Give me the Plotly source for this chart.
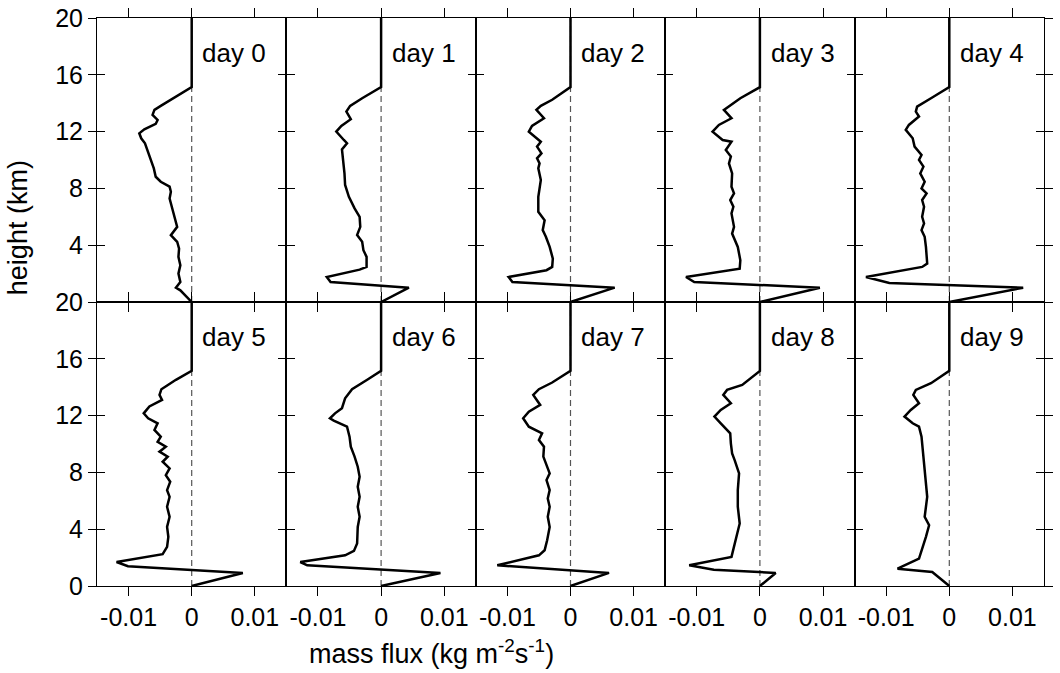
import plotly.graph_objects as go

# Vertical mass-flux profiles (kg m^-2 s^-1) against height (km), one per day
hgt_d0 = [20, 15.13, 13.81, 13.53, 13.18, 12.82, 12.54, 12.16, 11.88, 11.53, 11.18, 10.59, 10.0, 9.41, 8.82,
          8.47, 8.12, 7.76, 7.29, 6.47, 5.76, 5.29, 4.71, 4.24, 3.76, 3.18, 2.59, 2.0, 1.41, 1.01, 0.82, 0]
flux_d0 = [0, 0, -0.0049, -0.0059, -0.0062, -0.0054, -0.0057, -0.0075, -0.0083, -0.0080, -0.0074, -0.0069,
           -0.0065, -0.0060, -0.0057, -0.0049, -0.0035, -0.0033, -0.0035, -0.0030, -0.0025, -0.0023, -0.0033,
           -0.0023, -0.0020, -0.0021, -0.0018, -0.0021, -0.0018, -0.0025, -0.0018, 0]

hgt_d1 = [20, 15.13, 14.35, 13.81, 13.41, 12.87, 12.4, 12.0, 11.41, 11.18, 10.75, 10.0, 9.06, 8.24, 7.41,
          6.59, 6.0, 5.29, 4.71, 4.24, 3.65, 3.18, 2.47, 2.28, 1.76, 1.41, 1.01, 0]
flux_d1 = [0, 0, -0.0030, -0.0049, -0.0055, -0.0048, -0.0063, -0.0071, -0.0059, -0.0054, -0.0062, -0.0060,
           -0.0058, -0.0057, -0.0051, -0.0042, -0.0034, -0.0033, -0.0038, -0.0030, -0.0028, -0.0023, -0.0023,
           -0.0034, -0.0086, -0.0080, 0.0044, 0]

hgt_d2 = [20, 15.13, 14.24, 13.81, 13.53, 12.94, 12.4, 12.0, 11.29, 10.94, 10.47, 10.12, 9.76, 9.41, 8.59,
          7.41, 6.35, 5.76, 5.06, 4.59, 3.88, 3.06, 2.47, 2.24, 1.76, 1.41, 1.01, 0]
flux_d2 = [0, 0, -0.0029, -0.0047, -0.0054, -0.0042, -0.0061, -0.0066, -0.0047, -0.0053, -0.0046, -0.0053,
           -0.0049, -0.0051, -0.0047, -0.0051, -0.0051, -0.0041, -0.0044, -0.0039, -0.0033, -0.0028, -0.0029,
           -0.0038, -0.0098, -0.0092, 0.0070, 0]

hgt_d3 = [20, 15.13, 14.35, 13.81, 13.53, 12.94, 12.47, 12.0, 11.41, 11.29, 10.71, 10.24, 9.76, 9.06, 8.12,
          7.65, 7.18, 6.71, 6.24, 5.29, 4.82, 3.88, 2.94, 2.35, 1.76, 1.41, 1.01, 0]
flux_d3 = [0, 0, -0.0031, -0.0049, -0.0057, -0.0045, -0.0065, -0.0075, -0.0059, -0.0045, -0.0054, -0.0046,
           -0.0049, -0.0044, -0.0045, -0.0041, -0.0047, -0.0042, -0.0045, -0.0041, -0.0044, -0.0035, -0.0031,
           -0.0032, -0.0117, -0.0104, 0.0095, 0]

hgt_d4 = [20, 15.13, 14.35, 13.76, 13.41, 13.06, 12.47, 12.12, 11.53, 10.94, 10.35, 10.0, 9.53, 9.06, 8.47,
          8.0, 7.65, 7.18, 6.71, 6.0, 5.53, 5.06, 4.59, 3.88, 2.71, 2.47, 1.76, 1.34, 1.01, 0]
flux_d4 = [0, 0, -0.0029, -0.0051, -0.0053, -0.0048, -0.0064, -0.0069, -0.0058, -0.0055, -0.0044, -0.0048,
           -0.0041, -0.0046, -0.0039, -0.0044, -0.0036, -0.0043, -0.0040, -0.0043, -0.0040, -0.0044, -0.0039,
           -0.0037, -0.0035, -0.0043, -0.0132, -0.0095, 0.0117, 0]

hgt_d5 = [20, 15.15, 14.52, 13.86, 13.46, 13.1, 12.64, 12.16, 11.81, 11.46, 10.99, 10.52, 10.16, 9.81, 9.46,
          9.11, 8.75, 8.28, 7.81, 7.34, 6.75, 6.28, 5.58, 4.87, 4.16, 3.46, 2.75, 2.24, 1.69, 1.39, 0.92, 0]
flux_d5 = [0, 0, -0.0025, -0.0048, -0.0051, -0.0047, -0.0067, -0.0076, -0.0069, -0.0054, -0.0059, -0.0049,
           -0.0054, -0.0041, -0.0051, -0.0038, -0.0046, -0.0035, -0.0041, -0.0034, -0.0039, -0.0035, -0.0039,
           -0.0035, -0.0039, -0.0037, -0.0039, -0.0046, -0.0119, -0.0101, 0.0081, 0]

hgt_d6 = [20, 15.15, 14.52, 13.86, 13.22, 12.52, 12.16, 11.81, 11.65, 11.22, 10.52, 9.81, 9.11, 8.4, 7.69,
          6.99, 6.28, 5.58, 4.87, 4.16, 2.99, 2.47, 2.16, 1.69, 1.46, 0.92, 0]
flux_d6 = [0, 0, -0.0022, -0.0046, -0.0057, -0.0062, -0.0073, -0.0081, -0.0075, -0.0054, -0.0050, -0.0048,
           -0.0042, -0.0037, -0.0034, -0.0037, -0.0034, -0.0037, -0.0034, -0.0037, -0.0038, -0.0043, -0.0057,
           -0.0128, -0.0117, 0.0094, 0]

hgt_d7 = [20, 15.15, 14.33, 13.86, 13.46, 12.75, 12.28, 11.81, 11.22, 10.75, 10.28, 9.81, 9.11, 8.64, 7.93,
          7.46, 6.75, 6.16, 5.58, 4.87, 4.16, 3.22, 2.52, 2.16, 1.46, 0.92, 0]
flux_d7 = [0, 0, -0.0029, -0.0050, -0.0059, -0.0048, -0.0066, -0.0075, -0.0066, -0.0045, -0.0050, -0.0042,
           -0.0043, -0.0039, -0.0033, -0.0038, -0.0033, -0.0036, -0.0033, -0.0036, -0.0033, -0.0037, -0.0041,
           -0.0050, -0.0116, 0.0061, 0]

hgt_d8 = [20, 15.15, 14.16, 13.81, 13.46, 12.87, 12.4, 11.93, 11.46, 10.75, 10.05, 9.34, 8.87, 8.4, 7.93,
          6.75, 5.58, 4.4, 3.46, 2.05, 1.46, 1.15, 0.92, 0]
flux_d8 = [0, 0, -0.0028, -0.0052, -0.0058, -0.0046, -0.0062, -0.0072, -0.0062, -0.0047, -0.0046, -0.0044,
           -0.0040, -0.0037, -0.0033, -0.0035, -0.0035, -0.0032, -0.0037, -0.0045, -0.0112, -0.0073, 0.0025, 0]

hgt_d9 = [20, 15.15, 14.28, 13.81, 13.46, 12.87, 12.4, 11.93, 11.46, 11.22, 10.52, 9.11, 7.69, 6.28, 4.87,
          4.28, 3.46, 2.52, 1.93, 1.22, 0.99, 0]
flux_d9 = [0, 0, -0.0029, -0.0053, -0.0057, -0.0048, -0.0061, -0.0071, -0.0058, -0.0048, -0.0044, -0.0041,
           -0.0037, -0.0035, -0.0039, -0.0032, -0.0037, -0.0043, -0.0048, -0.0082, -0.0027, 0]

day_labels = ["day 0", "day 1", "day 2", "day 3", "day 4",
              "day 5", "day 6", "day 7", "day 8", "day 9"]
profiles = [(flux_d0, hgt_d0), (flux_d1, hgt_d1), (flux_d2, hgt_d2), (flux_d3, hgt_d3), (flux_d4, hgt_d4),
            (flux_d5, hgt_d5), (flux_d6, hgt_d6), (flux_d7, hgt_d7), (flux_d8, hgt_d8), (flux_d9, hgt_d9)]

x_tickvals = [-0.01, 0, 0.01]
x_ticktext = ["-0.01", "0", "0.01"]
y_tickvals = [0, 4, 8, 12, 16, 20]

FONT = "Liberation Sans, Arial, sans-serif"
TICK_SIZE = 25
TITLE_SIZE = 27
NCOL = 5

fig = go.Figure()
layout = {}

for k, (flux, hgt) in enumerate(profiles):
    row, col = divmod(k, NCOL)
    n = k + 1
    xs = "" if n == 1 else str(n)
    xdom = [col / NCOL, (col + 1) / NCOL]
    ydom = [0.5, 1.0] if row == 0 else [0.0, 0.5]

    fig.add_trace(go.Scatter(x=flux, y=hgt, mode="lines", xaxis="x" + xs, yaxis="y" + xs,
                             line=dict(color="black", width=2.5), showlegend=False,
                             hoverinfo="skip"))

    layout["xaxis" + xs] = dict(
        domain=xdom, anchor="y" + xs, range=[-0.015, 0.015], automargin=False,
        tickmode="array", tickvals=x_tickvals, ticktext=x_ticktext,
        ticks="outside", ticklen=9, tickwidth=1.2, tickcolor="black", mirror="ticks",
        showline=True, linecolor="black", linewidth=1.2,
        showgrid=False, zeroline=False, showticklabels=(row == 1),
        tickfont=dict(family=FONT, size=TICK_SIZE, color="black"),
    )
    layout["yaxis" + xs] = dict(
        domain=ydom, anchor="x" + xs, range=[0, 20], automargin=False,
        tickmode="array", tickvals=y_tickvals,
        ticks="inside", ticklen=8, tickwidth=1.2, tickcolor="black", mirror="ticks",
        showline=True, linecolor="black", linewidth=1.2,
        showgrid=False, zeroline=False, showticklabels=False,
    )

    # dashed zero reference line
    fig.add_shape(type="line", xref="x" + xs, yref="y" + xs + " domain", x0=0, x1=0, y0=0, y1=1,
                  line=dict(color="#555555", width=1.2, dash="6px,4px"), layer="below")

    fig.add_annotation(text=day_labels[k], xref="x" + xs + " domain", yref="y" + xs + " domain",
                       x=0.905, y=0.877, xanchor="right", yanchor="middle", showarrow=False,
                       font=dict(family=FONT, size=26, color="black"))

# Extra axes giving the outer edges ticks on both sides, plus the height labels
edge_axes = [
    (11, 1, "left", [4, 8, 12, 16, 20], True),
    (12, 6, "left", y_tickvals, True),
    (13, 5, "right", y_tickvals, False),
    (14, 10, "right", y_tickvals, False),
]
for n, base, side, tv, labels in edge_axes:
    bs = "" if base == 1 else str(base)
    layout["yaxis%d" % n] = dict(
        overlaying="y" + bs, anchor="x" + bs, side=side, range=[0, 20], automargin=False,
        tickmode="array", tickvals=tv, ticks="outside", ticklen=8, tickwidth=1.2, tickcolor="black",
        showline=False, showgrid=False, zeroline=False, showticklabels=labels,
        tickfont=dict(family=FONT, size=TICK_SIZE, color="black"),
    )
    fig.add_trace(go.Scatter(x=[None], y=[None], xaxis="x" + bs, yaxis="y%d" % n,
                             mode="lines", showlegend=False, hoverinfo="skip"))

fig.add_annotation(text="height (km)", xref="paper", yref="paper", x=0, y=0.63,
                   xshift=-79, textangle=-90, showarrow=False, xanchor="center", yanchor="middle",
                   font=dict(family=FONT, size=TITLE_SIZE, color="black"))
fig.add_annotation(text="mass flux (kg m<sup>-2</sup>s<sup>-1</sup>)", xref="paper", yref="paper",
                   x=0.353, y=0, yshift=-66, showarrow=False, xanchor="center", yanchor="middle",
                   font=dict(family=FONT, size=TITLE_SIZE, color="black"))

fig.update_layout(
    **layout,
    width=1060, height=673,
    margin=dict(l=97, r=16, t=18, b=87, autoexpand=False),
    paper_bgcolor="white", plot_bgcolor="white",
    showlegend=False,
)

fig.write_html("out.html")
